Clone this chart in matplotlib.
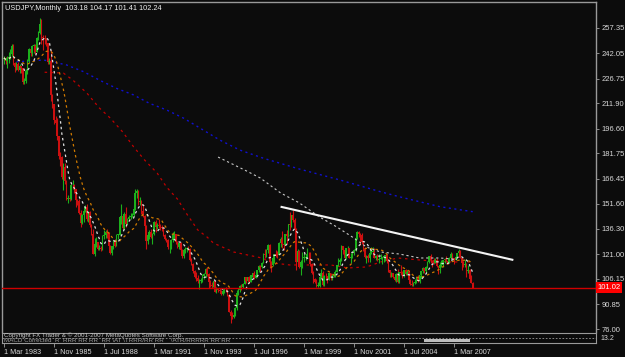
import numpy as np
import pandas as pd
import matplotlib
matplotlib.use("Agg")
import matplotlib.pyplot as plt
import matplotlib.transforms as mtransforms

plt.rcParams['font.family'] = ['Liberation Sans', 'DejaVu Sans']

# ---------------- data ----------------
title_text = "USDJPY,Monthly  103.18 104.17 101.41 102.24"
start_month = "1983-03"
first_open = 238.5

closes = [
    239.4, 237.5, 239.2, 239.5, 241.8, 246.6, 236.3, 233.8, 235.7, 232.2,
    234.3, 233.3, 224.8, 225.6, 231.2, 237.5, 244.8, 242.1, 246.6, 246.6, 243.0, 251.6,
    254.6, 259.5, 251.7, 251.5, 251.0, 248.5, 236.8, 237.5, 216.9, 211.3, 202.0, 200.3,
    192.2, 180.5, 179.6, 167.7, 173.6, 165.0, 154.1, 155.2, 154.3, 162.5, 163.0, 160.1,
    153.5, 153.4, 145.8, 140.0, 144.6, 147.0, 149.3, 142.0, 146.3, 138.5, 133.0, 121.3,
    127.0, 128.3, 124.4, 125.0, 124.3, 132.3, 132.8, 134.6, 134.0, 125.8, 122.0, 125.8,
    129.0, 126.3, 132.6, 132.9, 143.3, 144.1, 137.0, 145.1, 139.0, 142.1, 143.3, 143.9,
    145.0, 148.1, 157.7, 159.3, 152.3, 152.9, 147.0, 144.0, 138.0, 129.0, 132.5, 134.4,
    131.5, 133.2, 140.6, 137.4, 138.8, 138.2, 137.4, 137.0, 132.9, 130.5, 129.4, 125.2,
    125.3, 129.5, 133.0, 133.4, 128.3, 125.6, 127.6, 123.7, 119.7, 123.4, 124.0, 124.7,
    124.5, 117.8, 114.9, 111.0, 107.3, 107.0, 104.7, 104.7, 105.5, 108.0, 109.0, 111.9,
    108.9, 104.2, 102.8, 102.0, 104.7, 98.5, 100.4, 99.7, 98.8, 96.9, 98.9, 99.7,
    99.4, 96.6, 86.5, 84.0, 83.0, 84.5, 88.4, 97.5, 99.6, 101.9, 101.5, 103.4,
    107.2, 104.7, 107.4, 104.6, 108.5, 109.5, 106.7, 108.5, 111.4, 114.0, 113.5, 115.9,
    121.2, 120.5, 123.9, 126.9, 116.5, 114.6, 118.5, 121.1, 120.8, 120.5, 127.7, 130.5,
    127.1, 126.6, 133.2, 132.0, 139.0, 138.4, 144.5, 141.5, 136.0, 116.2, 123.3, 113.2,
    116.2, 118.8, 119.0, 119.5, 121.5, 121.0, 115.0, 109.5, 106.0, 104.5, 102.1, 102.2,
    107.3, 109.9, 102.5, 108.1, 107.7, 106.1, 109.5, 106.6, 108.1, 109.0, 110.5, 114.4,
    116.3, 117.3, 126.0, 123.6, 118.9, 124.6, 124.9, 118.9, 119.4, 122.4, 123.5, 131.0,
    134.6, 133.5, 132.6, 128.5, 124.0, 119.5, 119.8, 118.5, 121.8, 122.4, 122.5, 118.8,
    119.9, 117.5, 118.0, 118.8, 119.3, 119.8, 120.5, 116.8, 111.5, 109.5, 109.5, 107.2,
    105.8, 109.2, 104.2, 110.4, 109.5, 108.8, 111.4, 109.3, 110.1, 105.8, 103.1, 102.6,
    103.6, 104.6, 107.2, 104.8, 108.3, 110.8, 112.5, 111.0, 113.4, 116.4, 119.8, 117.8,
    117.3, 115.9, 117.8, 113.8, 112.5, 114.5, 114.6, 117.3, 118.1, 116.9, 115.7, 119.0,
    121.0, 118.6, 117.8, 119.5, 121.7, 123.2, 118.7, 115.8, 114.8, 115.3, 111.2, 111.7,
    106.4, 103.9, 101.02,
]
highs = [
    240.5, 240.0, 240.6, 243.0, 244.5, 247.8, 247.5, 237.0, 237.0, 237.0,
    235.8, 234.5, 233.5, 227.0, 232.8, 238.4, 245.5, 245.5, 247.0, 247.8, 247.5, 251.9,
    255.7, 263.6, 263.0, 253.0, 253.0, 251.5, 248.5, 239.5, 243.8, 217.5, 211.5, 204.5,
    203.0, 192.5, 182.5, 180.0, 176.0, 176.0, 165.5, 156.5, 157.0, 163.5, 165.5, 163.5,
    160.5, 154.5, 154.5, 148.0, 145.5, 148.0, 151.0, 151.5, 147.0, 147.0, 139.5, 136.5,
    131.0, 131.5, 128.5, 126.5, 126.0, 132.8, 135.5, 135.5, 136.5, 134.5, 126.5, 126.0,
    129.8, 130.0, 133.5, 133.5, 143.8, 151.5, 144.5, 146.5, 149.5, 143.0, 144.5, 146.0,
    146.0, 151.0, 160.4, 160.3, 159.5, 155.5, 153.5, 151.5, 145.0, 138.5, 133.5, 135.5,
    136.0, 134.0, 141.0, 141.5, 140.0, 142.0, 139.5, 138.5, 137.5, 133.5, 131.0, 130.5,
    127.0, 130.5, 134.5, 134.8, 133.5, 129.0, 128.5, 128.5, 124.5, 124.0, 125.5, 125.5,
    126.0, 125.0, 118.5, 115.5, 111.5, 110.5, 108.5, 106.0, 107.0, 109.0, 110.0, 112.5,
    113.5, 109.5, 105.5, 104.5, 105.0, 105.0, 101.5, 101.0, 101.0, 99.5, 99.5, 101.0,
    101.5, 100.0, 97.0, 87.5, 86.0, 86.0, 89.0, 99.5, 100.5, 102.5, 103.0, 103.5,
    107.5, 107.5, 107.5, 108.0, 108.8, 109.8, 110.8, 109.0, 111.5, 114.5, 114.5, 116.2,
    122.0, 124.5, 124.0, 127.5, 127.0, 117.0, 119.0, 121.5, 123.5, 123.0, 128.5, 131.5,
    135.0, 128.5, 133.5, 135.5, 139.5, 146.8, 145.0, 147.6, 143.0, 137.0, 124.5, 123.5,
    117.5, 122.5, 122.0, 121.0, 124.7, 122.5, 122.5, 116.0, 111.0, 107.0, 106.0, 104.5,
    107.8, 112.0, 111.0, 108.5, 110.0, 107.5, 110.0, 109.5, 109.0, 109.5, 111.5, 114.6,
    119.0, 118.5, 126.5, 126.0, 124.5, 125.0, 126.0, 125.0, 122.0, 123.0, 124.5, 131.5,
    135.2, 135.0, 134.0, 134.0, 129.0, 125.5, 120.5, 121.0, 124.0, 125.5, 125.5, 125.0,
    120.5, 121.0, 121.5, 121.0, 119.5, 120.0, 120.7, 121.0, 117.5, 111.5, 110.5, 109.5,
    108.0, 110.0, 112.0, 110.5, 114.8, 111.0, 111.8, 112.0, 111.5, 111.5, 106.0, 105.5,
    104.5, 106.0, 107.5, 108.5, 108.5, 111.0, 113.5, 113.0, 113.8, 116.8, 120.0, 121.4,
    117.5, 119.0, 119.0, 118.5, 113.5, 116.5, 117.5, 117.5, 118.5, 119.9, 118.5, 119.5,
    122.2, 122.0, 119.0, 120.0, 122.0, 124.1, 123.5, 119.5, 117.0, 117.8, 115.5, 114.5,
    112.0, 108.5, 104.2,
]
lows = [
    235.5, 235.5, 233.5, 236.5, 238.5, 240.5, 235.0, 231.0, 232.0, 231.5,
    230.5, 230.5, 223.9, 223.5, 224.0, 229.8, 236.5, 240.5, 240.5, 242.5, 241.5, 243.0,
    250.0, 254.0, 248.0, 244.0, 247.5, 246.5, 235.5, 235.5, 213.5, 209.0, 199.5, 199.0,
    190.0, 178.5, 174.0, 166.5, 160.0, 163.5, 153.5, 152.0, 153.0, 153.5, 160.5, 158.0,
    149.8, 151.0, 145.5, 137.3, 139.0, 140.5, 146.5, 141.0, 140.5, 137.5, 132.5, 121.0,
    120.2, 125.5, 123.5, 123.5, 123.0, 123.5, 130.5, 131.0, 131.0, 125.0, 121.3, 120.5,
    124.0, 125.5, 126.5, 130.5, 132.5, 139.0, 136.0, 136.5, 137.5, 139.5, 141.5, 142.5,
    143.5, 144.0, 147.5, 155.0, 151.0, 151.0, 145.5, 143.5, 137.0, 124.3, 127.5, 130.5,
    131.0, 127.5, 132.5, 134.5, 136.5, 137.0, 135.5, 135.0, 132.0, 129.5, 128.5, 124.5,
    122.0, 124.5, 128.5, 130.5, 127.5, 125.0, 124.5, 123.0, 118.5, 118.5, 122.0, 122.5,
    123.5, 117.0, 114.5, 110.0, 106.5, 104.9, 103.8, 100.4, 103.5, 104.5, 106.0, 107.5,
    108.0, 101.0, 101.6, 101.0, 101.5, 98.3, 97.8, 98.5, 98.0, 96.5, 96.5, 98.0,
    98.5, 96.0, 86.0, 79.8, 82.0, 82.5, 84.0, 87.5, 96.5, 98.5, 99.5, 100.5,
    103.2, 103.5, 104.5, 104.0, 104.5, 107.5, 106.0, 106.5, 107.5, 110.5, 110.5, 112.5,
    115.5, 119.0, 119.5, 122.0, 112.5, 110.6, 114.0, 115.5, 119.5, 119.0, 120.5, 125.5,
    125.0, 123.5, 126.5, 127.0, 131.5, 135.5, 137.5, 140.5, 130.5, 111.6, 116.0, 112.5,
    108.3, 112.5, 116.5, 117.5, 118.5, 117.5, 114.0, 109.0, 103.5, 104.0, 101.5, 101.2,
    101.5, 106.5, 102.0, 102.0, 106.0, 104.0, 105.5, 105.5, 105.5, 107.5, 107.5, 110.5,
    114.0, 114.5, 117.0, 121.5, 118.5, 118.0, 123.0, 118.5, 115.8, 118.5, 120.5, 123.0,
    130.5, 131.5, 126.5, 127.5, 123.0, 119.0, 115.5, 116.5, 116.5, 121.0, 119.5, 118.5,
    117.5, 117.0, 116.0, 118.0, 115.0, 116.5, 116.8, 116.0, 110.5, 107.5, 107.5, 106.5,
    105.0, 104.5, 103.5, 103.5, 108.5, 106.5, 107.5, 108.5, 108.5, 105.5, 102.5, 101.8,
    101.7, 103.0, 103.5, 104.5, 104.0, 106.5, 110.0, 109.5, 109.5, 113.0, 115.5, 115.8,
    113.5, 115.0, 115.5, 113.5, 108.9, 110.0, 113.5, 113.5, 115.5, 116.5, 115.0, 115.5,
    118.5, 118.0, 115.2, 117.5, 118.5, 121.0, 118.5, 111.6, 113.5, 113.5, 107.2, 110.0,
    105.0, 103.6, 101.0,
]

# slow indicator lines: (month, value)
red_ma_months = ["1985-05", "1986-05", "1986-11", "1987-08", "1988-04", "1988-11", "1989-07",
                 "1990-02", "1990-09", "1991-05", "1991-11", "1992-06", "1992-12", "1993-07",
                 "1994-01", "1994-05", "1995-06", "1996-03", "1996-12", "1997-07", "1998-06",
                 "1999-09", "2000-08", "2001-07", "2002-07", "2003-04", "2004-03", "2005-05",
                 "2006-11", "2008-01"]
red_ma_values = [230.7, 230.2, 226.0, 218.2, 209.2, 203.1, 194.7, 185.7, 177.8, 170.0, 161.6,
                 154.3, 145.3, 135.7, 131.4, 127.8, 122.4, 120.6, 118.8, 115.8, 114.6, 114.6,
                 114.6, 112.8, 113.4, 116.4, 118.8, 117.6, 116.4, 116.4]

blue_ma_months = ["1983-11", "1984-10", "1985-04", "1985-10", "1986-07", "1987-06", "1988-04",
                  "1989-03", "1990-02", "1990-12", "1991-11", "1992-10", "1993-07", "1994-09",
                  "1995-10", "1997-01", "1998-12", "2001-02", "2003-04", "2004-04", "2005-05",
                  "2006-06", "2008-03"]
blue_ma_values = [237.0, 237.6, 238.1, 237.0, 235.1, 231.0, 226.0, 221.0, 217.0, 212.0, 208.0,
                  203.0, 197.9, 189.9, 183.8, 178.9, 172.4, 165.8, 158.7, 155.7, 152.7, 149.7,
                  146.7]

white_ma_months = ["1994-08", "1996-01", "1996-11", "1997-12", "1998-12", "2000-01", "2000-12",
                   "2001-10", "2002-07", "2003-04", "2004-04", "2005-05", "2006-06", "2007-05"]
white_ma_values = [179.6, 171.8, 167.0, 158.0, 152.0, 143.5, 137.5, 131.4, 125.4, 122.4, 121.2,
                   118.8, 118.8, 118.0]

trend_months = ["1997-12", "2010-05"]
trend_values = [149.7, 117.6]

current_price = 101.02
price_ticks = [257.35, 242.05, 226.75, 211.90, 196.60, 181.75, 166.45, 151.60,
               136.30, 121.00, 106.15, 90.85, 76.00]
fast_period = 8
mid_period = 18
date_label_step = 32

# ---------------- helpers ----------------
dates = pd.period_range(start_month, periods=len(closes), freq="M")
start_p = pd.Period(start_month, freq="M")


def month_pos(s):
    return (pd.Period(s, freq="M") - start_p).n


idx = np.arange(len(closes))
c = np.array(closes)
o = np.array([first_open] + closes[:-1])
h = np.maximum(np.array(highs), np.maximum(o, c))
l = np.minimum(np.array(lows), np.minimum(o, c))

fast_ma = pd.Series(c).rolling(fast_period, min_periods=1).mean()
mid_ma = pd.Series(c).rolling(mid_period, min_periods=1).mean()

# ---------------- figure ----------------
W, H = 625, 357
bg = "#0c0c0c"
fig = plt.figure(figsize=(W / 100, H / 100), dpi=100, facecolor=bg)


def fr(x0, y0, x1, y1):
    return [x0 / W, 1 - y1 / H, (x1 - x0) / W, (y1 - y0) / H]


ax = fig.add_axes(fr(2, 2, 596, 332))
ax.set_facecolor(bg)
px_per_unit = 1.66
ax.set_xlim(-1.28, 378.9)
ax.set_ylim(257.35 - (332 - 28) / px_per_unit, 257.35 + (28 - 2) / px_per_unit)

# moving averages (drawn below candles)
ax.plot([month_pos(m) for m in blue_ma_months], blue_ma_values, color="#1010d0",
        lw=1.0, ls=(0, (1.5, 2.5)), zorder=2)
ax.plot([month_pos(m) for m in red_ma_months], red_ma_values, color="#c00000",
        lw=0.9, ls=(0, (2.0, 3.0)), zorder=2)

# candles
bull = c >= o
up_col, dn_col = "#1cb01c", "#cc1010"
cols = np.where(bull, up_col, dn_col)
ax.vlines(idx, l, h, colors=cols, lw=0.8, zorder=3)
body_lo = np.minimum(o, c)
body_h = np.maximum(np.abs(c - o), 0.4)
ax.bar(idx, body_h, bottom=body_lo, width=1.05, color=cols, linewidth=0, zorder=3)

ax.plot(idx, mid_ma, color="#d07a00", lw=0.9, ls=(0, (2.0, 2.5)), zorder=4)
ax.plot(idx, fast_ma, color="#e0e0e0", lw=0.9, ls=(0, (2.0, 2.5)), zorder=4)
ax.plot([month_pos(m) for m in white_ma_months], white_ma_values, color="#c8c8c8",
        lw=0.8, ls=(0, (2.0, 2.5)), zorder=4)

# trendline
ax.plot([month_pos(m) for m in trend_months], trend_values, color="#f4f4f4", lw=1.5,
        zorder=5, solid_capstyle="butt")

# current price line
ax.axhline(current_price, color="#d00000", lw=1.0, zorder=4)

# axes styling
for s in ax.spines.values():
    s.set_color("#9a9a9a")
    s.set_linewidth(1.0)
ax.spines["bottom"].set_visible(False)
ax.set_xticks([])
ax.yaxis.tick_right()
ax.set_yticks(price_ticks)
ax.set_yticklabels([f"{v:.2f}" for v in price_ticks])
ax.tick_params(axis="y", colors="#a0a0a0", labelcolor="#d8d8d8", labelsize=5.5,
               length=2.5, width=0.6, pad=1.5)

trans = mtransforms.blended_transform_factory(ax.transAxes, ax.transData)
ax.text(1.003, current_price, f"{current_price:.2f}", transform=trans, ha="left",
        va="center", color="white", fontsize=5.5,
        bbox=dict(boxstyle="square,pad=0.2", fc="#ff0000", ec="none"), zorder=10,
        clip_on=False)

fig.text(5 / W, 1 - 8 / H, title_text, color="#f0f0f0", fontsize=5.3, va="center",
         ha="left")

# sub window strip with date labels
sub = fig.add_axes(fr(2, 333, 596, 343))
sub.set_facecolor(bg)
sub.set_xlim(ax.get_xlim())
sub.set_ylim(0, 1)
for s in sub.spines.values():
    s.set_color("#9a9a9a")
    s.set_linewidth(0.8)
sub.axhline(0.55, color="#9a9a9a", lw=0.6, ls=(0, (2, 2)))
sub.text(0.004, 0.78, "Copyright FX Trader & © 2001-2007 MetaQuotes Software Corp.",
         transform=sub.transAxes, color="#c8c8c8", fontsize=4.5, va="center", ha="left")
sub.text(0.004, 0.2, "MACD Corrected  R  RRR RR RR  RR \\AT \\TRRR/RR RR    \\ATR/RRRRR RR RR",
         transform=sub.transAxes, color="#a0a0a0", fontsize=4.5, va="center", ha="left")
sub.axvspan(month_pos("2001-11") + 45, month_pos("2001-11") + 74, ymin=0.1, ymax=0.45,
            color="#bdbdbd", lw=0)
sub.set_yticks([])
tick_pos = list(range(0, len(closes), date_label_step))
tick_lab = [f"1 {dates[i].strftime('%b %Y')}" for i in tick_pos]
sub.set_xticks(tick_pos)
sub.set_xticklabels(tick_lab, ha="left")
sub.tick_params(axis="x", colors="#a0a0a0", labelcolor="#d8d8d8", labelsize=5.2,
                length=3, width=0.6, pad=1.5)
fig.text(600 / W, 1 - 338 / H, "13.2", color="#d8d8d8", fontsize=5, va="center",
         ha="left")

fig.savefig("out.png", dpi=100, facecolor=bg)
